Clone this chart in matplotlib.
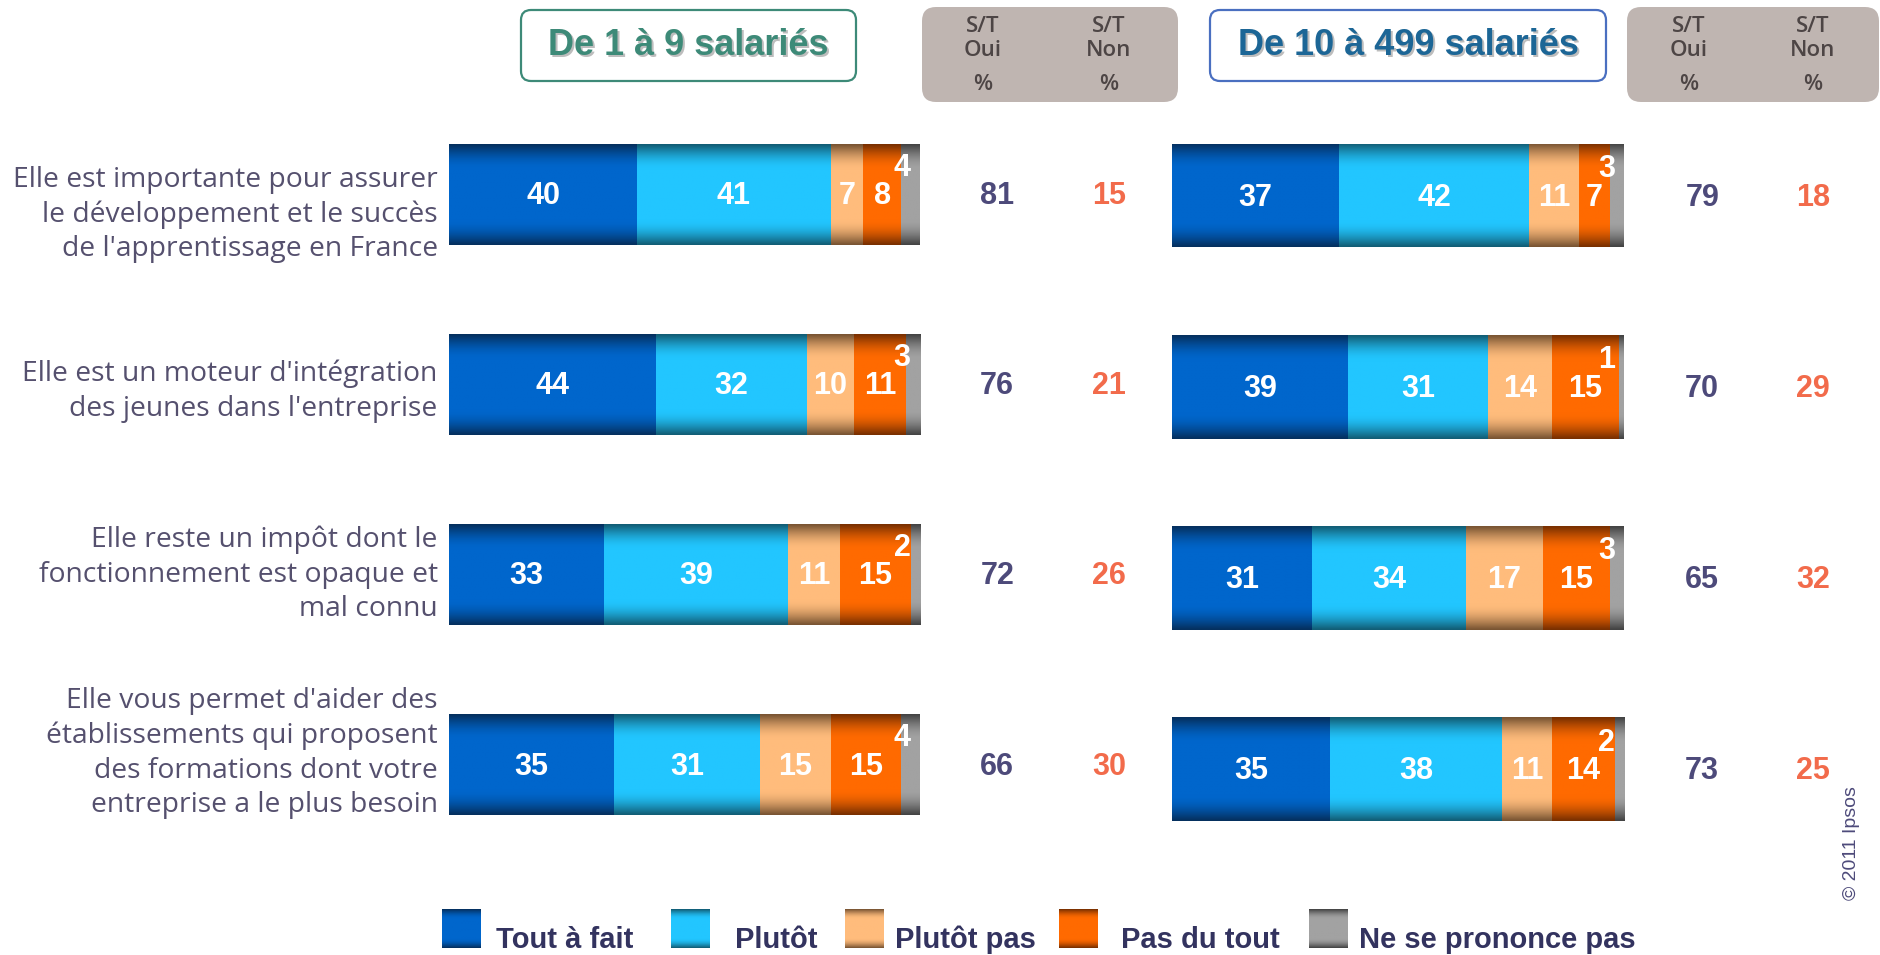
import numpy as np
import matplotlib
matplotlib.use('Agg')
import matplotlib.pyplot as plt
from matplotlib.patches import FancyBboxPatch
from matplotlib.colors import to_rgb
from matplotlib import font_manager

# ---------------- data ----------------
categories = [
    "Elle est importante pour assurer\nle développement et le succès\nde l'apprentissage en France",
    "Elle est un moteur d'intégration\ndes jeunes dans l'entreprise",
    "Elle reste un impôt dont le\nfonctionnement est opaque et\nmal connu",
    "Elle vous permet d'aider des\nétablissements qui proposent\ndes formations dont votre\nentreprise a le plus besoin",
]
series = ["Tout à fait", "Plutôt", "Plutôt pas", "Pas du tout", "Ne se prononce pas"]
panel_titles = ["De 1 à 9 salariés", "De 10 à 499 salariés"]

small_tout = [40, 44, 33, 35]
small_plutot = [41, 32, 39, 31]
small_plutot_pas = [7, 10, 11, 15]
small_pas_du_tout = [8, 11, 15, 15]
small_nsp = [4, 3, 2, 4]
small_st_oui = [81, 76, 72, 66]
small_st_non = [15, 21, 26, 30]

mid_tout = [37, 39, 31, 35]
mid_plutot = [42, 31, 34, 38]
mid_plutot_pas = [11, 14, 17, 11]
mid_pas_du_tout = [7, 15, 15, 14]
mid_nsp = [3, 1, 3, 2]
mid_st_oui = [79, 70, 65, 73]
mid_st_non = [18, 29, 32, 25]

# ---------------- style ----------------
W, H, DPI = 1881, 955, 100
avail = {f.name for f in font_manager.fontManager.ttflist}
NARROW = 'Liberation Sans Narrow' if 'Liberation Sans Narrow' in avail else 'Liberation Sans'
LABEL_FONT = 'Open Sans' if 'Open Sans' in avail else 'DejaVu Sans'

seg_colors = [  # (bright centre, dark edge)
    ('#0066CC', '#05305F'),
    ('#22C6FF', '#125E76'),
    ('#FFBC7C', '#7A5533'),
    ('#FF6A00', '#7A3000'),
    ('#A2A2A2', '#444444'),
]
OUI_C = '#4D4A7A'
NON_C = '#F26B4B'
CAT_C = '#55506E'


def grad_img(bright, dark, n=64):
    t = np.linspace(0, 1, n)
    d = np.abs(t - 0.5) / 0.5
    f = np.clip((1 - d) / 0.5, 0, 1)
    f = np.sin(f * np.pi / 2)
    b = np.array(to_rgb(bright))
    k = np.array(to_rgb(dark))
    img = k[None, :] + (b - k)[None, :] * f[:, None]
    return img[:, None, :]


fig = plt.figure(figsize=(W / DPI, H / DPI), dpi=DPI)
fig.patch.set_facecolor('white')

# overlay axes in pixel coordinates for decorations
ov = fig.add_axes([0, 0, 1, 1], zorder=0)
ov.set_xlim(0, W)
ov.set_ylim(H, 0)
ov.axis('off')
ov.patch.set_alpha(0)


def px_axes(x0, x1, y0, y1):
    return fig.add_axes([x0 / W, 1 - y1 / H, (x1 - x0) / W, (y1 - y0) / H], zorder=1)


def draw_panel(ax, cols, oui, non, bar_h, x_oui, x_non):
    y = np.arange(len(categories))
    left = np.zeros(len(categories))
    for k, (vals, (bright, dark)) in enumerate(zip(cols, seg_colors)):
        vals = np.array(vals, dtype=float)
        bars = ax.barh(y, vals, left=left, height=bar_h, color='none', edgecolor='none')
        img = grad_img(bright, dark)
        for i, p in enumerate(bars.patches):
            x0, y0 = p.get_x(), p.get_y()
            w, hh = p.get_width(), p.get_height()
            ax.imshow(img, extent=[x0, x0 + w, y0 + hh, y0], aspect='auto',
                      interpolation='bilinear', zorder=1)
            if k < 4:
                ax.text(x0 + w / 2, y[i] + 0.01, f"{int(vals[i])}", ha='center', va='center',
                        color='white', fontsize=22, fontweight='bold', family=NARROW, zorder=3)
            else:
                ax.text(x0 + w - 3.8, y[i] - 0.14, f"{int(vals[i])}", ha='center', va='center',
                        color='white', fontsize=22, fontweight='bold', family=NARROW, zorder=3)
        left += vals
    for i in range(len(categories)):
        ax.text(x_oui, y[i] + 0.01, f"{oui[i]}", ha='center', va='center', color=OUI_C,
                fontsize=22, fontweight='bold', family=NARROW, clip_on=False)
        ax.text(x_non, y[i] + 0.01, f"{non[i]}", ha='center', va='center', color=NON_C,
                fontsize=22, fontweight='bold', family=NARROW, clip_on=False)
    ax.set_xlim(0, 100)
    ax.set_ylim(len(categories) - 1 + bar_h / 2, -bar_h / 2)
    ax.set_aspect('auto')
    ax.axis('off')


# left panel
axL = px_axes(449, 920, 144, 815)
draw_panel(axL, [small_tout, small_plutot, small_plutot_pas, small_pas_du_tout, small_nsp],
           small_st_oui, small_st_non, 0.53, 116.4, 140.2)
# right panel
axR = px_axes(1172, 1624, 144, 821)
draw_panel(axR, [mid_tout, mid_plutot, mid_plutot_pas, mid_pas_du_tout, mid_nsp],
           mid_st_oui, mid_st_non, 0.54, 117.3, 141.8)

# category labels
label_dy = [0.105, 0.035, 0.0, -0.06]
for i, lab in enumerate(categories):
    axL.text(-2.4, i + label_dy[i], lab, ha='right', va='center', multialignment='right',
             color=CAT_C, fontsize=20.3, family=LABEL_FONT, linespacing=1.3, clip_on=False)

# title boxes
title_specs = [
    (521, 10, 335, 71, '#3D8A78', '#3D8A78'),
    (1210, 10, 396, 71, '#4A6FC0', '#1C6696'),
]
for (x, y, w, h, ec, tc), title in zip(title_specs, panel_titles):
    ov.add_patch(FancyBboxPatch((x, y), w, h, boxstyle='round,pad=0,rounding_size=10',
                                fc='white', ec=ec, lw=1.6, zorder=1))
    ov.text(x + w / 2 + 2, y + h / 2 + 2, title, ha='center', va='center', fontsize=26,
            fontweight='bold', family='Liberation Sans', color='#BDBDBD', zorder=2)
    ov.text(x + w / 2, y + h / 2, title, ha='center', va='center', fontsize=26,
            fontweight='bold', family='Liberation Sans', color=tc, zorder=3)

# grey S/T header boxes
for (x, w, xo, xn) in [(922, 256, 983, 1109), (1627, 252, 1689, 1813)]:
    ov.add_patch(FancyBboxPatch((x, 7), w, 95, boxstyle='round,pad=0,rounding_size=14',
                                fc='#BFB5B1', ec='none', zorder=1))
    for xc, word in [(xo, 'Oui'), (xn, 'Non')]:
        ov.text(xc, 27, 'S/T', ha='center', va='center', fontsize=16, family=LABEL_FONT,
                fontweight='semibold', color='#4D4545', zorder=2)
        ov.text(xc, 50, word, ha='center', va='center', fontsize=16, family=LABEL_FONT,
                fontweight='semibold', color='#4D4545', zorder=2)
        ov.text(xc, 84, '%', ha='center', va='center', fontsize=16, family=LABEL_FONT,
                fontweight='semibold', color='#4D4545', zorder=2)

# legend
sq_x = [442, 671, 845, 1059, 1309]
tx_x = [496, 735, 895, 1121, 1359]
for name, (bright, dark), sx, tx in zip(series, seg_colors, sq_x, tx_x):
    ov.imshow(grad_img(bright, dark), extent=[sx, sx + 39, 948, 909], aspect='auto',
              interpolation='bilinear', zorder=2)
    ov.text(tx, 948, name, ha='left', va='baseline', fontsize=21, fontweight='bold',
            family=NARROW, color='#33335F', zorder=2)
ov.set_xlim(0, W)
ov.set_ylim(H, 0)
ov.set_aspect('auto')

# copyright
ov.text(1852, 843, '© 2011 Ipsos', rotation=90, ha='center', va='center', fontsize=14,
        family='Liberation Sans', color=OUI_C)

fig.savefig('out.png', dpi=DPI, facecolor='white')
